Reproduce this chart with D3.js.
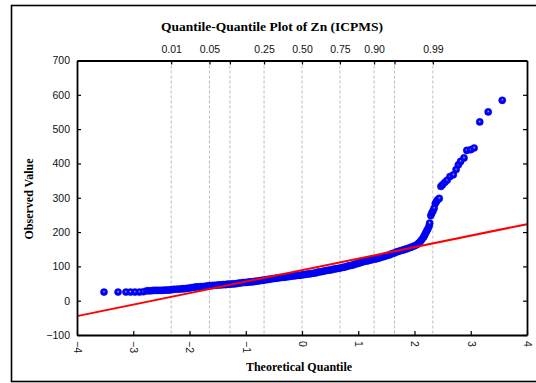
<!DOCTYPE html>
<html><head><meta charset="utf-8">
<script src="https://cdn.jsdelivr.net/npm/d3@7"></script>
<style>body{margin:0;background:#fff}svg{display:block}</style>
</head><body><svg id="c" width="536" height="383"></svg>
<script>
const chartTitle = "Quantile-Quantile Plot of Zn (ICPMS)";
const xTitle = "Theoretical Quantile";
const yTitle = "Observed Value";
const xTicks = [-4,-3,-2,-1,0,1,2,3,4];
const yTicks = [-100,0,100,200,300,400,500,600,700];
const probTicks = [0.01,0.05,0.10,0.25,0.50,0.75,0.90,0.95,0.99];
const probLabels = ["0.01","0.05","","0.25","0.50","0.75","0.90","","0.99"];
const theoQ = [-3.52,-3.27,-3.13,-3.05,-2.97,-2.89,-2.82,
-2.76,-2.72,-2.68,-2.64,-2.60,-2.56,-2.52,-2.48,-2.44,-2.40,-2.36,-2.32,-2.28,-2.24,-2.20,-2.16,-2.12,-2.08,-2.04,-2.00,
-1.96,-1.92,-1.88,-1.84,-1.80,-1.76,-1.72,-1.68,-1.64,-1.60,-1.56,-1.52,-1.48,-1.44,-1.40,-1.36,-1.32,-1.28,-1.24,-1.20,-1.16,-1.12,-1.08,-1.04,-1.00,
-0.96,-0.92,-0.88,-0.84,-0.80,-0.76,-0.72,-0.68,-0.64,-0.60,-0.56,-0.52,-0.48,-0.44,-0.40,-0.36,-0.32,-0.28,-0.24,-0.20,-0.16,-0.12,-0.08,-0.04,
0.00,0.04,0.08,0.12,0.16,0.20,0.24,0.28,0.32,0.36,0.40,0.44,0.48,0.52,0.56,0.60,0.64,0.68,0.72,0.76,0.80,0.84,0.88,0.92,0.96,
1.00,1.04,1.08,1.12,1.16,1.20,1.24,1.28,1.32,1.36,1.40,1.44,1.48,1.52,1.56,1.60,1.64,1.68,1.72,1.76,1.80,1.84,1.88,1.92,1.96,
2.00,2.04,2.07,2.10,2.13,2.16,2.18,2.20,2.22,2.24,2.26,2.27,2.29,2.31,2.33,2.35,2.37,2.39,2.41,2.44,
2.47,2.50,2.54,2.58,2.63,2.69,2.74,2.78,2.82,2.88,2.93,3.00,3.06,3.16,3.31,3.56];
const observed = [25,25,25,25,25,25,26,
29,29,29,30,30,30,30,30,31,31,31,32,33,33,34,34,35,35,36,37,
38,39,40,40,41,41,42,43,44,44,45,45,46,46,47,47,48,48,49,49,50,51,52,53,53,
54,55,55,56,57,58,59,60,61,62,63,64,65,66,67,68,68,69,70,71,72,73,74,74,
75,76,77,78,79,80,81,83,84,85,87,88,89,90,92,93,94,95,97,98,100,102,103,105,107,
109,111,113,115,116,118,119,121,122,124,126,128,130,132,134,137,139,142,144,146,148,150,152,155,157,
160,163,167,172,178,185,191,198,204,210,218,226,248,256,262,270,283,289,294,298,
333,338,345,351,362,367,382,396,406,416,438,440,445,521,550,584];
const fitIntercept = 89, fitSlope = 33.5;

// inverse standard normal CDF (Acklam) for the probability axis
function invNorm(p){
  const a=[-3.969683028665376e+01,2.209460984245205e+02,-2.759285104469687e+02,1.383577518672690e+02,-3.066479806614716e+01,2.506628277459239e+00];
  const b=[-5.447609879822406e+01,1.615858368580409e+02,-1.556989798598866e+02,6.680131188771972e+01,-1.328068155288572e+01];
  const c=[-7.784894002430293e-03,-3.223964580411365e-01,-2.400758277161838e+00,-2.549671010336049e+00,4.374664141464968e+00,2.938163982698783e+00];
  const d=[7.784695709041462e-03,3.224671290700398e-01,2.445134137142996e+00,3.754408661907416e+00];
  const pl=0.02425;let q,r;
  if(p<pl){q=Math.sqrt(-2*Math.log(p));return (((((c[0]*q+c[1])*q+c[2])*q+c[3])*q+c[4])*q+c[5])/((((d[0]*q+d[1])*q+d[2])*q+d[3])*q+1);}
  if(p<=1-pl){q=p-0.5;r=q*q;return (((((a[0]*r+a[1])*r+a[2])*r+a[3])*r+a[4])*r+a[5])*q/(((((b[0]*r+b[1])*r+b[2])*r+b[3])*r+b[4])*r+1);}
  q=Math.sqrt(-2*Math.log(1-p));return -(((((c[0]*q+c[1])*q+c[2])*q+c[3])*q+c[4])*q+c[5])/((((d[0]*q+d[1])*q+d[2])*q+d[3])*q+1);
}

const svg = d3.select("#c");
const L=77, R=527, T=60.5, B=335;
const x = d3.scaleLinear().domain([-4,4]).range([L,R]);
const y = d3.scaleLinear().domain([-100,700]).range([B,T]);
const sans = "'Liberation Sans', Arial, sans-serif";
const serif = "'Liberation Serif', 'Times New Roman', serif";

// outer frame
svg.append("rect").attr("x",11.5).attr("y",5.5).attr("width",540).attr("height",376)
  .attr("fill","none").attr("stroke","#000").attr("stroke-width",1.6);

// gradient for points
const defs = svg.append("defs");
const g = defs.append("radialGradient").attr("id","ball").attr("cx","50%").attr("cy","50%").attr("r","55%").attr("fx","50%").attr("fy","42%");
g.append("stop").attr("offset","0%").attr("stop-color","#e8e8ff");
g.append("stop").attr("offset","18%").attr("stop-color","#4040ff");
g.append("stop").attr("offset","42%").attr("stop-color","#0000ff");
g.append("stop").attr("offset","100%").attr("stop-color","#0000e6");

// grid lines at probability quantiles
svg.append("g").selectAll("line").data(probTicks).join("line")
  .attr("x1",p=>x(invNorm(p))).attr("x2",p=>x(invNorm(p)))
  .attr("y1",T).attr("y2",B)
  .attr("stroke","#bdbdbd").attr("stroke-width",1).attr("stroke-dasharray","3,2");

// points
const pts = theoQ.map((q,i)=>({q, v: observed[i]}));
svg.append("g").selectAll("circle").data(pts).join("circle")
  .attr("cx",d=>x(d.q)).attr("cy",d=>y(d.v)).attr("r",3.6)
  .attr("fill","url(#ball)").attr("stroke","#0000ee").attr("stroke-width",0.4);

// fitted line
svg.append("line")
  .attr("x1",x(-4)).attr("y1",y(fitIntercept+fitSlope*-4))
  .attr("x2",x(4)).attr("y2",y(fitIntercept+fitSlope*4))
  .attr("stroke","#ff0000").attr("stroke-width",2);

// axes
const axL = svg.append("g").attr("transform",`translate(${L},0)`)
  .call(d3.axisLeft(y).tickValues(yTicks).tickSizeInner(-4).tickSizeOuter(0).tickPadding(7));
const axR = svg.append("g").attr("transform",`translate(${R},0)`)
  .call(d3.axisRight(y).tickValues(yTicks).tickSizeInner(-4).tickSizeOuter(0).tickFormat(""));
const axB = svg.append("g").attr("transform",`translate(0,${B})`)
  .call(d3.axisBottom(x).tickValues(xTicks).tickSizeInner(-4).tickSizeOuter(0).tickPadding(6));
const axT = svg.append("g").attr("transform",`translate(0,${T})`)
  .call(d3.axisTop(x).tickValues(probTicks.map(invNorm)).tickSizeInner(-4).tickSizeOuter(0).tickPadding(8)
    .tickFormat((d,i)=>probLabels[i]));
[axL,axR,axB,axT].forEach(a=>{
  a.select(".domain").attr("stroke","#000").attr("stroke-width",1.8);
  a.selectAll(".tick line").attr("stroke","#000").attr("stroke-width",1.2);
  a.selectAll("text").attr("font-family",sans).attr("font-size",10.5).attr("fill","#111");
});
axB.selectAll(".tick text")
  .attr("transform","rotate(90)").attr("text-anchor","start")
  .attr("x",6).attr("y",0).attr("dy","0.35em");

// titles
svg.append("text").attr("x",272).attr("y",31).attr("text-anchor","middle")
  .attr("font-family",serif).attr("font-weight","bold").attr("font-size",13.5).text(chartTitle);
svg.append("text").attr("x",299).attr("y",371).attr("text-anchor","middle")
  .attr("font-family",serif).attr("font-weight","bold").attr("font-size",12).text(xTitle);
svg.append("text").attr("transform","translate(33,199) rotate(-90)").attr("text-anchor","middle")
  .attr("font-family",serif).attr("font-weight","bold").attr("font-size",12).text(yTitle);
</script></body></html>
